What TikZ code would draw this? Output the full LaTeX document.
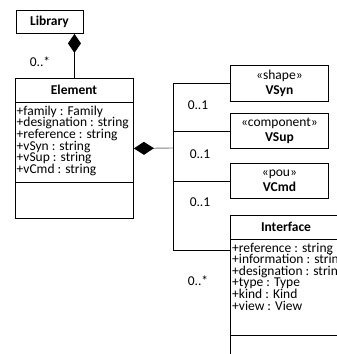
\documentclass[tikz,border=0pt]{standalone}
\usepackage{fontspec}
\setmainfont{Carlito}
\usetikzlibrary{arrows.meta}
\begin{document}
\begin{tikzpicture}[x=1pt,y=-1pt,
  box/.style={draw, line width=0.9pt, inner sep=0pt, anchor=north west},
  fnt/.style={font=\fontsize{13.5}{15.5}\selectfont},
  ttl/.style={fnt, inner sep=0pt, font=\fontsize{13.5}{15.5}\selectfont\bfseries},
  attr/.style={fnt, inner sep=0pt, anchor=base west},
  mult/.style={fnt, inner sep=0pt},
  link/.style={line width=0.9pt},
  comp/.style={line width=0.9pt, {Diamond[length=19pt,width=13pt,color=black,fill=black]}-}
]
\clip (0,0) rectangle (337,354);
\useasboundingbox (0,0) rectangle (337,354);

% Library
\node[box, minimum width=67pt, minimum height=23pt] (lib) at (16,10) {};
\node[ttl] (libt) at (49.5,21.5) {Library};

% Element
\node[box, minimum width=118pt, minimum height=140pt] (elem) at (15,78) {};
\node[ttl] (elemt) at (74,90) {Element};
\draw[link] ([yshift=-24pt]elem.north west) -- ([yshift=-24pt]elem.north east);
\draw[link] ([yshift=-104pt]elem.north west) -- ([yshift=-104pt]elem.north east);
\node[attr] (a1) at (16.5,115) {+family : Family};
\node[attr] (a2) at (16.5,126.7) {+designation : string};
\node[attr] (a3) at (16.5,138.4) {+reference : string};
\node[attr] (a4) at (16.5,150.1) {+vSyn : string};
\node[attr] (a5) at (16.5,161.8) {+vSup : string};
\node[attr] (a6) at (16.5,173.5) {+vCmd : string};

% V boxes
\node[box, fnt, align=center, minimum width=98pt, minimum height=36pt] (vsyn) at (230,65) {«shape»\\\textbf{VSyn}};
\node[box, fnt, align=center, minimum width=98pt, minimum height=35pt] (vsup) at (230,113) {«component»\\\textbf{VSup}};
\node[box, fnt, align=center, minimum width=98pt, minimum height=35pt] (vcmd) at (230,163) {«pou»\\\textbf{VCmd}};

% Interface
\node[box, minimum width=112pt, minimum height=160pt] (iface) at (230,215) {};
\node[ttl] (ifacet) at (286,227) {Interface};
\draw[link] ([yshift=-24pt]iface.north west) -- ([yshift=-24pt]iface.north east);
\draw[link] ([yshift=-120pt]iface.north west) -- ([yshift=-120pt]iface.north east);
\node[attr] (b1) at (232,252) {+reference : string};
\node[attr] (b2) at (232,263.6) {+information : string};
\node[attr] (b3) at (232,275.2) {+designation : string};
\node[attr] (b4) at (232,286.8) {+type : Type};
\node[attr] (b5) at (232,298.4) {+kind : Kind};
\node[attr] (b6) at (232,310) {+view : View};

% connectors
\draw[comp] (elem.north |- lib.south) -- (elem.north);
\coordinate (bus) at (173,148);
\coordinate (ifin) at (230,250);
\draw[comp, gray, {Diamond[length=20pt,width=13pt,color=black,fill=black]}-] (elem.east) -- (bus);
\draw[link] (bus) |- (vsyn.west);
\draw[link] (bus) |- (vsup.west);
\draw[link] (bus) |- (vcmd.west);
\draw[link] (bus) |- (ifin);

% multiplicities
\node[mult] (m0) at (40,62) {0..*};
\node[mult] (m1) at (198,105) {0..1};
\node[mult] (m2) at (200,154) {0..1};
\node[mult] (m3) at (200,202) {0..1};
\node[mult] (m4) at (198,281) {0..*};
\end{tikzpicture}
\end{document}
